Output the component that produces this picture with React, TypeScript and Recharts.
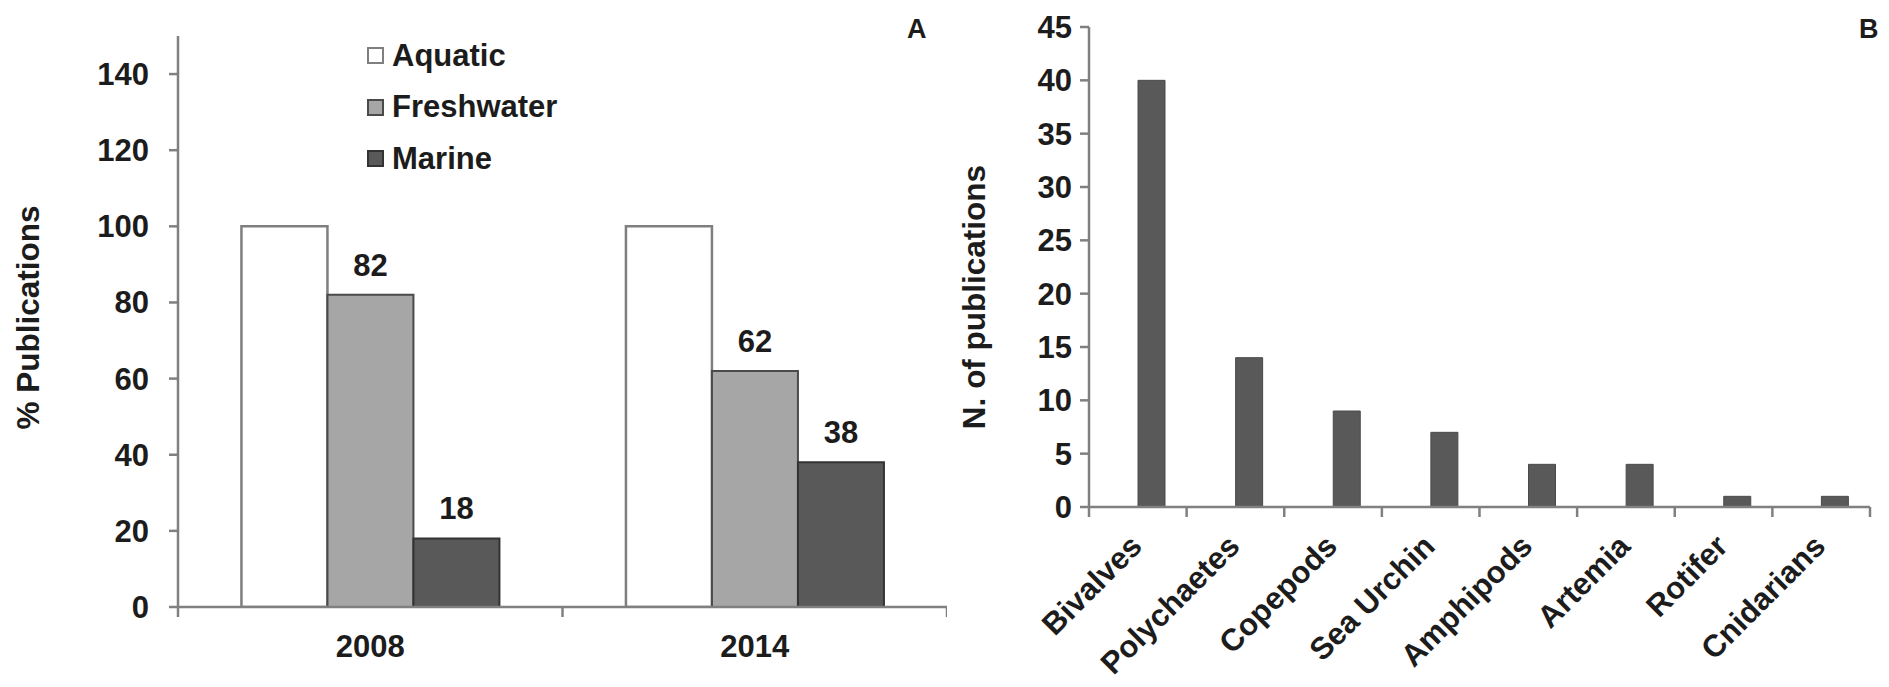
import React from 'react';
import { BarChart, Bar, XAxis, YAxis, Legend, LabelList, Label } from 'recharts';

// ---- Panel A data ----
const years = ['2008', '2014'];
const aquatic = [100, 100];
const freshwater = [82, 62];
const marine = [18, 38];
const yTicksA = [0, 20, 40, 60, 80, 100, 120, 140];

// ---- Panel B data ----
const taxa = ['Bivalves', 'Polychaetes', 'Copepods', 'Sea Urchin', 'Amphipods', 'Artemia', 'Rotifer', 'Cnidarians'];
const publications = [40, 14, 9, 7, 4, 4, 1, 1];
const yTicksB = [0, 5, 10, 15, 20, 25, 30, 35, 40, 45];

const dataA = years.map((y, i) => ({ year: y, Aquatic: aquatic[i], Freshwater: freshwater[i], Marine: marine[i] }));
const dataB = taxa.map((t, i) => ({ taxon: t, count: publications[i] }));

const FONT = '"Liberation Sans", Arial, sans-serif';
const TEXT = '#1c1c1c';
const AXIS = '#808080';
const FS = 31;
const TITLE_FS = 31.5;

const tickStyle = { fill: TEXT, fontSize: FS, fontWeight: 700, fontFamily: FONT };

const yTitle = (text: string, fromLeft: number, fromCenter: number) => (props: any) => {
  const vb = props && props.viewBox ? props.viewBox : { x: 0, y: 0, width: 0, height: 0 };
  const cx = vb.x + fromLeft;
  const cy = vb.y + vb.height / 2 + fromCenter;
  return (
    <text x={cx} y={cy} transform={`rotate(-90, ${cx}, ${cy})`} textAnchor="middle"
      fill={TEXT} fontSize={TITLE_FS} fontWeight={700} fontFamily={FONT}>{text}</text>
  );
};

const LegendA = (props: any) => {
  const payload = props.payload || [];
  return (
    <div style={{ display: 'flex', flexDirection: 'column' }}>
      {payload.map((p: any) => (
        <div key={p.value} style={{ display: 'flex', alignItems: 'center', height: 51.5 }}>
          <span style={{ display: 'inline-block', width: 17, height: 17, boxSizing: 'border-box',
            background: p.color, border: `2px solid ${(p.payload && p.payload.stroke) || '#444'}` }} />
          <span style={{ marginLeft: 8, fontSize: FS, fontWeight: 700, fontFamily: FONT, color: TEXT, whiteSpace: 'nowrap' }}>{p.value}</span>
        </div>
      ))}
    </div>
  );
};

// boundary tick marks (Excel style) drawn at band edges using the tick's band offset
const EdgeMarks = ({ x, y, off, last }: any) => (
  <g>
    <line x1={x - off} x2={x - off} y1={y} y2={y + 10} stroke={AXIS} strokeWidth={2.5} />
    {last ? <line x1={x + off} x2={x + off} y1={y} y2={y + 10} stroke={AXIS} strokeWidth={2.5} /> : null}
  </g>
);

const YearTick = (props: any) => {
  const { x, y, payload, index } = props;
  const off = payload.offset || 0;
  return (
    <g>
      <EdgeMarks x={x} y={y} off={off} last={index === years.length - 1} />
      <text x={x} y={y + 50} textAnchor="middle" fill={TEXT} fontSize={FS} fontWeight={700} fontFamily={FONT}>{payload.value}</text>
    </g>
  );
};

const TaxonTick = (props: any) => {
  const { x, y, payload, index } = props;
  const off = payload.offset || 0;
  return (
    <g>
      <EdgeMarks x={x} y={y} off={off} last={index === taxa.length - 1} />
      <text x={0} y={0} transform={`translate(${x + 6},${y + 41}) rotate(-45)`} textAnchor="end"
        fill={TEXT} fontSize={FS} fontWeight={700} fontFamily={FONT}>{payload.value}</text>
    </g>
  );
};

export default function App() {
  return (
    <div style={{ position: 'relative', width: 1889, height: 687, background: '#fff', overflow: 'hidden' }}>
      <style>{'body{margin:0;}'}</style>
      <div style={{ position: 'absolute', left: 0, top: 0 }}>
        <BarChart width={947} height={687} data={dataA} margin={{ top: 36, right: 0, bottom: 79, left: 0 }}
          barCategoryGap="16.5%" barGap={0}>
          <XAxis dataKey="year" height={1} stroke={AXIS} strokeWidth={2.5} tickLine={false}
            tickSize={0} tickMargin={0} tick={<YearTick />} />
          <YAxis width={178} domain={[0, 150]} ticks={yTicksA} allowDataOverflow interval={0}
            tickSize={9} tickMargin={20} stroke={AXIS} strokeWidth={2.5} tick={tickStyle}>
            <Label content={yTitle('% Publications', 39, -4)} />
          </YAxis>
          <Legend layout="horizontal" verticalAlign="middle" align="center" content={<LegendA />}
            wrapperStyle={{ left: 367, top: 30, width: 'auto', height: 'auto' }} />
          <Bar dataKey="Aquatic" name="Aquatic" fill="#ffffff" stroke="#7f7f7f" strokeWidth={2.5} isAnimationActive={false} />
          <Bar dataKey="Freshwater" name="Freshwater" fill="#a6a6a6" stroke="#4a4a4a" strokeWidth={2} isAnimationActive={false}>
            <LabelList dataKey="Freshwater" position="top" offset={19} fill={TEXT} fontSize={FS} fontWeight={700} fontFamily={FONT} />
          </Bar>
          <Bar dataKey="Marine" name="Marine" fill="#595959" stroke="#333333" strokeWidth={2} isAnimationActive={false}>
            <LabelList dataKey="Marine" position="top" offset={19} fill={TEXT} fontSize={FS} fontWeight={700} fontFamily={FONT} />
          </Bar>
        </BarChart>
      </div>
      <div style={{ position: 'absolute', left: 950, top: 0 }}>
        <BarChart width={939} height={687} data={dataB} margin={{ top: 27, right: 19, bottom: 179, left: 0 }}
          barSize={27} barGap={0}>
          <XAxis dataKey="taxon" height={1} stroke={AXIS} strokeWidth={2.5} tickLine={false}
            tickSize={0} tickMargin={0} interval={0} tick={<TaxonTick />} />
          <YAxis width={139} domain={[0, 45]} ticks={yTicksB} allowDataOverflow interval={0}
            tickSize={9} tickMargin={8} stroke={AXIS} strokeWidth={2.5} tick={tickStyle}>
            <Label content={yTitle('N. of publications', 35, 30)} />
          </YAxis>
          <Bar dataKey="spacer" fill="transparent" isAnimationActive={false} />
          <Bar dataKey="count" fill="#595959" stroke="#4a4a4a" strokeWidth={1} isAnimationActive={false} />
        </BarChart>
      </div>
      <svg width={1889} height={687} style={{ position: 'absolute', left: 0, top: 0, pointerEvents: 'none' }}>
        <text x={907} y={38} fill={TEXT} fontSize={27} fontWeight={700} fontFamily={FONT}>A</text>
        <text x={1859} y={38} fill={TEXT} fontSize={27} fontWeight={700} fontFamily={FONT}>B</text>
      </svg>
    </div>
  );
}
